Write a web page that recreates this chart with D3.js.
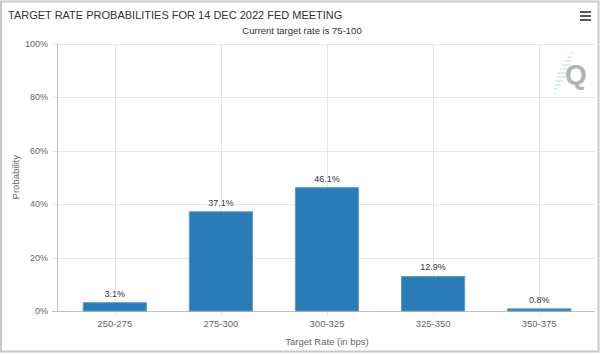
<!DOCTYPE html>
<html><head><meta charset="utf-8">
<script src="https://cdn.jsdelivr.net/npm/d3@7"></script>
<style>body{margin:0;background:#fff}svg{display:block}text{font-family:"Liberation Sans",Arial,sans-serif}</style>
</head><body><div id="chart"></div>
<script>
const categories = ["250-275","275-300","300-325","325-350","350-375"];
const probabilities = [3.1, 37.1, 46.1, 12.9, 0.8];
const yTicks = [0, 20, 40, 60, 80, 100];
const titleText = "TARGET RATE PROBABILITIES FOR 14 DEC 2022 FED MEETING";
const subtitleText = "Current target rate is 75-100";
const xTitle = "Target Rate (in bps)";
const yTitle = "Probability";

const W = 602, H = 354;
const svg = d3.select("#chart").append("svg").attr("width", W).attr("height", H);
svg.append("rect").attr("x",1).attr("y",1.5).attr("width",597.5).attr("height",350).attr("fill","#fff").attr("stroke","#c8c8c8").attr("stroke-width",2);

const plotL = 62, plotR = 592, axisX = 57.5, gridR = 595;
const x = d3.scaleBand().domain(categories).range([plotL, plotR]).paddingInner(0.405).paddingOuter(0.2);
const y = d3.scaleLinear().domain([0, 100]).range([311, 43.5]);

// horizontal grid
const g = svg.append("g");
g.selectAll(".hg").data(yTicks).join("line")
  .attr("x1", 52).attr("x2", gridR)
  .attr("y1", d => Math.round(y(d)) + 0.5).attr("y2", d => Math.round(y(d)) + 0.5)
  .attr("stroke", d => d === 0 ? "#c0c0c0" : "#e6e6e6").attr("stroke-width", 1);
// vertical grid at category centers
g.selectAll(".vg").data(categories).join("line")
  .attr("x1", d => Math.round(x(d) + x.bandwidth()/2) + 0.5).attr("x2", d => Math.round(x(d) + x.bandwidth()/2) + 0.5)
  .attr("y1", y(100)).attr("y2", y(0) + 5)
  .attr("stroke", "#e6e6e6");
// y axis line
g.append("line").attr("x1", axisX).attr("x2", axisX).attr("y1", y(100)).attr("y2", y(0)).attr("stroke", "#c0c0c0");

// y labels
svg.selectAll(".yl").data(yTicks).join("text")
  .attr("x", 48).attr("y", d => y(d) + 3).attr("text-anchor", "end")
  .attr("font-size", 9).attr("fill", "#666").text(d => d + "%");
svg.append("text").attr("transform", `translate(19,${y(50)}) rotate(-90)`).attr("text-anchor","middle")
  .attr("font-size", 9.5).attr("fill", "#666").text(yTitle);

// watermark Q
const wm = svg.append("g");
const dashLens = [2,4,6,8,10,12,13,12,10,8,6,4,2];
dashLens.forEach((len, i) => {
  const cy = 49 + i * 4, cx = 574 - i * 1.7;
  wm.append("line").attr("x1", cx - len/2).attr("x2", cx + len/2 - 2)
    .attr("y1", cy).attr("y2", cy).attr("stroke", "#bde5f6").attr("stroke-width", 1.2);
});
wm.append("text").attr("x", 576).attr("y", 84).attr("text-anchor","middle").attr("font-size", 28).attr("font-weight","bold").attr("fill","#b3b3b3").text("Q");

// bars
svg.selectAll(".bar").data(probabilities).join("rect")
  .attr("x", (d,i) => x(categories[i])).attr("width", x.bandwidth())
  .attr("y", d => y(d)).attr("height", d => y(0) - y(d))
  .attr("fill", "#2a7cb6").attr("stroke", "#5d9ccb").attr("stroke-width", 1);

// data labels
svg.selectAll(".dl").data(probabilities).join("text")
  .attr("x", (d,i) => x(categories[i]) + x.bandwidth()/2).attr("y", d => y(d) - 6)
  .attr("text-anchor","middle").attr("font-size", 9).attr("fill", "#333")
  .attr("stroke","#fff").attr("stroke-width",2).attr("paint-order","stroke")
  .text(d => d.toFixed(1) + "%");

// x labels
svg.selectAll(".xl").data(categories).join("text")
  .attr("x", d => x(d) + x.bandwidth()/2).attr("y", 327).attr("text-anchor","middle")
  .attr("font-size", 9.5).attr("fill", "#666").text(d => d);
svg.append("text").attr("x", (plotL+plotR)/2).attr("y", 345).attr("text-anchor","middle")
  .attr("font-size", 9.5).attr("fill", "#666").text(xTitle);

// title & subtitle
svg.append("text").attr("x", 8).attr("y", 19).attr("font-size", 11).attr("fill", "#333").text(titleText);
svg.append("text").attr("x", 302).attr("y", 34).attr("text-anchor","middle").attr("font-size", 9.5).attr("fill", "#333").text(subtitleText);

// menu icon
[0,1,2].forEach(i => svg.append("rect").attr("x", 580).attr("y", 11 + i*4).attr("width", 11).attr("height", 2).attr("fill", "#555"));
</script></body></html>
